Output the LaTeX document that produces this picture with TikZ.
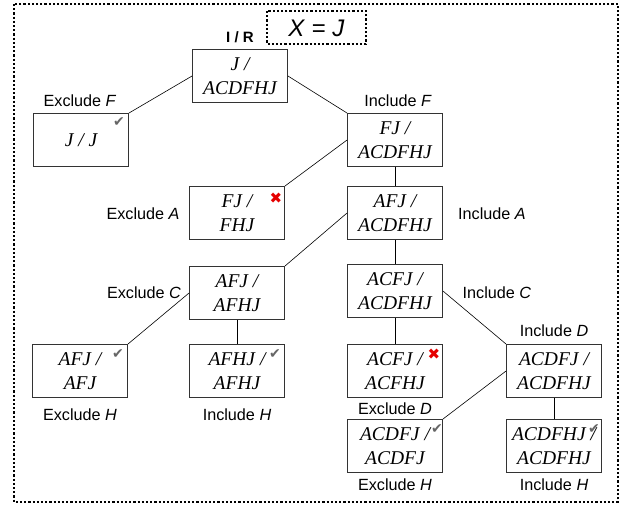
\documentclass[tikz,border=0pt]{standalone}
\usepackage{fontspec}
\setmainfont{Liberation Serif}
\setsansfont{Liberation Sans}
\newfontfamily\symfont{DejaVu Sans}
\begin{document}
\begin{tikzpicture}[x=1pt,y=-1pt,
  box/.style={draw=black!80,line width=0.9pt,minimum width=95pt,minimum height=53pt,
    inner sep=0pt,align=center,font=\fontsize{19.5}{24}\selectfont\itshape},
  lbl/.style={font=\fontsize{16.2}{18}\selectfont\sffamily},
  ok/.style={font=\fontsize{14}{14}\selectfont\symfont,text=black!60,inner sep=0pt},
  no/.style={font=\fontsize{15}{15}\selectfont\symfont,text=red!90!black,inner sep=0pt},
  edge/.style={line width=0.6pt}]
\useasboundingbox (0,0) rectangle (625,506);
\draw[line width=1.1pt,dash pattern=on 2.2pt off 2pt] (14,4) rectangle (618,502);
\draw[line width=1.1pt,dash pattern=on 2.2pt off 2pt] (267,11) rectangle (366,44);
\node[font=\fontsize{24}{24}\selectfont\sffamily] (xj) at (316.5,28) {\textit{X} = \textit{J}};
\node[font=\fontsize{15}{15}\selectfont\sffamily\bfseries] (ir) at (240,37) {I / R};

% boxes
\node[box] (root) at (240,76) {J /\\ACDFHJ};
\node[box] (jj) at (81,140) {J / J};
\node[box] (fj) at (395,140) {FJ /\\ACDFHJ};
\node[box] (fjfhj) at (237,213) {FJ /\\FHJ};
\node[box] (afj) at (395,213) {AFJ /\\ACDFHJ};
\node[box] (afjafhj) at (237,293) {AFJ /\\AFHJ};
\node[box] (acfj) at (395,291) {ACFJ /\\ACDFHJ};
\node[box] (afjafj) at (80,371) {AFJ /\\AFJ};
\node[box] (afhj) at (237,371) {AFHJ /\\AFHJ};
\node[box] (acfjacfhj) at (395,371) {ACFJ /\\ACFHJ};
\node[box] (acdfj) at (554,371) {ACDFJ /\\ACDFHJ};
\node[box] (acdfjacdfj) at (395,446) {ACDFJ /\\ACDFJ};
\node[box] (acdfhj) at (554,446) {ACDFHJ /\\ACDFHJ};

% marks
\node[ok] (m1) at (119,122) {✔};
\node[no] (m2) at (276,198) {✖};
\node[ok] (m3) at (118,354) {✔};
\node[ok] (m4) at (275,354) {✔};
\node[no] (m5) at (434,354) {✖};
\node[ok] (m6) at (437,429) {✔};
\node[ok] (m7) at (594,429) {✔};

% labels
\node[lbl] (l1) at (80,101) {Exclude \textit{F}};
\node[lbl] (l2) at (398,101) {Include \textit{F}};
\node[lbl] (l3) at (143,214) {Exclude \textit{A}};
\node[lbl] (l4) at (492,214) {Include \textit{A}};
\node[lbl] (l5) at (144,293) {Exclude \textit{C}};
\node[lbl] (l6) at (497,293) {Include \textit{C}};
\node[lbl] (l7) at (554,331) {Include \textit{D}};
\node[lbl] (l8) at (395,409) {Exclude \textit{D}};
\node[lbl] (l9) at (80,415) {Exclude \textit{H}};
\node[lbl] (l10) at (237,415) {Include \textit{H}};
\node[lbl] (l11) at (395,485) {Exclude \textit{H}};
\node[lbl] (l12) at (554,485) {Include \textit{H}};

% edges
\draw[edge] (root.west) -- (jj.north east);
\draw[edge] (root.east) -- (fj.north west);
\draw[edge] (fj.west) -- (fjfhj.north east);
\draw[edge] (fj) -- (afj);
\draw[edge] (afj.west) -- (afjafhj.north east);
\draw[edge] (afj) -- (acfj);
\draw[edge] (afjafhj.west) -- (afjafj.north east);
\draw[edge] (afjafhj) -- (afhj);
\draw[edge] (acfj) -- (acfjacfhj);
\draw[edge] (acfj.east) -- (acdfj.north west);
\draw[edge] (acdfj.west) -- (acdfjacdfj.north east);
\draw[edge] (acdfj) -- (acdfhj);
\end{tikzpicture}
\end{document}
